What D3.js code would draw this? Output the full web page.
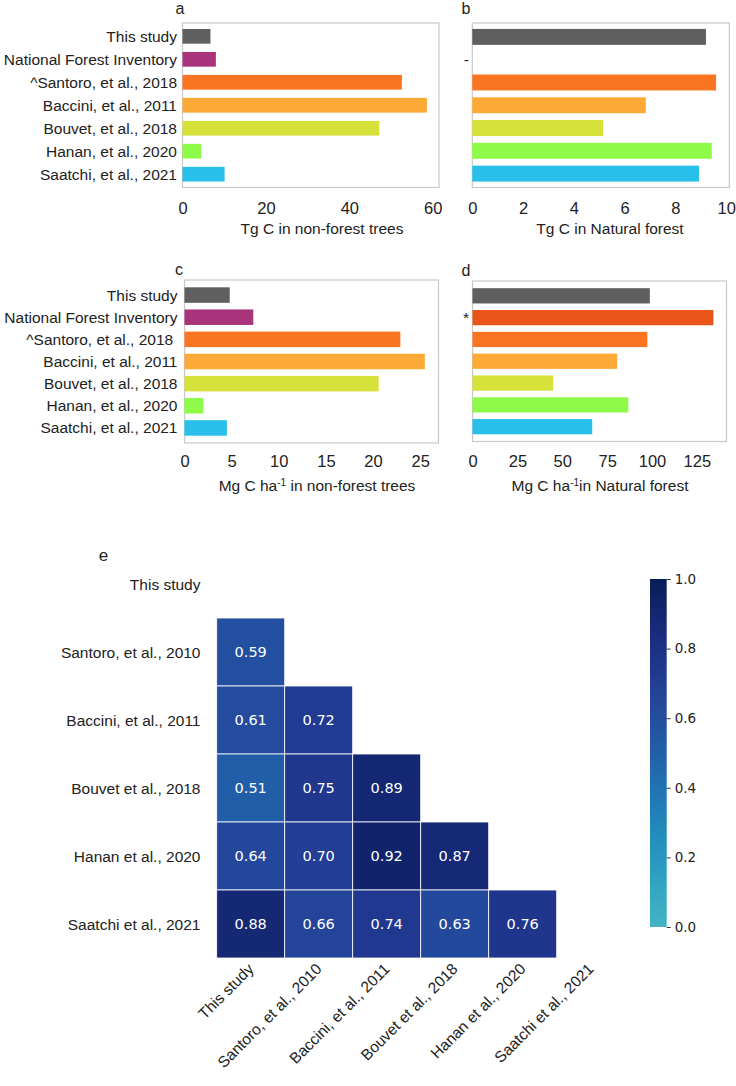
<!DOCTYPE html>
<html><head><meta charset="utf-8">
<script src="https://cdn.jsdelivr.net/npm/d3@7"></script>
<style>
html,body{margin:0;padding:0;background:#fff;}
svg{display:block;}
text{font-family:"Liberation Sans",Arial,sans-serif;fill:#222;}
.dv{font-family:"DejaVu Sans",sans-serif;}
</style></head>
<body>
<svg id="chart" width="736" height="1086"></svg>
<script>
// ---------- data ----------
const studies = ["This study","National Forest Inventory","^Santoro, et al., 2018","Baccini, et al., 2011","Bouvet, et al., 2018","Hanan, et al., 2020","Saatchi, et al., 2021"];
const studiesC = ["This study","National Forest Inventory","^Santoro, et al., 2018\u00a0","Baccini, et al., 2011","Bouvet, et al., 2018","Hanan, et al., 2020","Saatchi, et al., 2021"];
const barColors = ["#5f5f5f","#a8347b","#fb7421","#fca935","#d6e23a","#8dfb48","#28bfea"];
const barColorsD = ["#5f5f5f","#e95518","#fb7421","#fca935","#d6e23a","#8dfb48","#28bfea"];
const tgNonForest = [6.7, 8.0, 52.6, 58.6, 47.2, 4.5, 10.1];
const tgNatural = [9.2, null, 9.6, 6.83, 5.15, 9.43, 8.93];
const mgNonForest = [4.8, 7.3, 22.9, 25.5, 20.6, 2.0, 4.5];
const mgNatural = [98.8, 134.2, 97.4, 80.6, 45.0, 86.8, 66.7];
const labelsB = ["", "-", "", "", "", "", ""];
const labelsD = ["", "*", "", "", "", "", ""];
const ticksA = [0, 20, 40, 60];
const ticksB = [0, 2, 4, 6, 8, 10];
const ticksC = [0, 5, 10, 15, 20, 25];
const ticksD = [0, 25, 50, 75, 100, 125];

const heatLabels = ["This study","Santoro, et al., 2010","Baccini, et al., 2011","Bouvet et al., 2018","Hanan et al., 2020","Saatchi et al., 2021"];
// lower triangle rows (row i has i values)
const corrRows = [
  [],
  [0.59],
  [0.61, 0.72],
  [0.51, 0.75, 0.89],
  [0.64, 0.70, 0.92, 0.87],
  [0.88, 0.66, 0.74, 0.63, 0.76]
];
const cbTicks = [0.0, 0.2, 0.4, 0.6, 0.8, 1.0];

// ---------- drawing ----------
const svg = d3.select("#chart");

function barPanel(o) {
  const g = svg.append("g");
  const x = d3.scaleLinear().domain([0, o.max]).range([o.x0, o.x1]);
  const y = d3.scaleBand().domain(d3.range(o.values.length)).range([o.y0, o.y1])
    .paddingInner(o.pi).paddingOuter(o.po);
  g.append("rect").attr("x", o.x0).attr("y", o.y0).attr("width", o.x1 - o.x0).attr("height", o.y1 - o.y0)
    .attr("fill", "none").attr("stroke", "#c8c8c8").attr("stroke-width", 1.2);
  g.selectAll("rect.bar").data(o.values.map((v, i) => ({v, i}))).enter()
    .filter(d => d.v != null)
    .append("rect").attr("class", "bar")
    .attr("x", x(0)).attr("y", d => y(d.i))
    .attr("width", d => x(d.v) - x(0)).attr("height", y.bandwidth())
    .attr("fill", d => o.colors[d.i]);
  // y labels
  g.selectAll("text.yl").data(o.labels).enter().append("text").attr("class", "yl")
    .attr("x", o.labelX).attr("y", (d, i) => y(i) + y.bandwidth() / 2 + 5.5)
    .attr("text-anchor", "end").style("font-size", "15.5px").style("white-space", "pre").text(d => d);
  // x axis
  const ax = d3.axisBottom(x).tickValues(o.ticks).tickSize(0).tickPadding(0);
  const axg = g.append("g").attr("transform", `translate(0,${o.tickY})`).call(ax);
  axg.select(".domain").remove();
  axg.selectAll("text").attr("dy", 0).attr("y", 0).style("font-size", "16.5px")
    .style("font-family", '"Liberation Sans",Arial,sans-serif').attr("fill", "#222");
  // title
  const t = g.append("text").attr("x", o.titleX).attr("y", o.titleY).attr("text-anchor", "middle").style("font-size", "15.5px");
  o.title.forEach(p => {
    const ts = t.append("tspan").text(p.t);
    if (p.sup) ts.attr("baseline-shift", "super").style("font-size", "10px");
  });
  g.append("text").attr("x", o.letterX).attr("y", o.letterY).attr("text-anchor", "middle").style("font-size", "16px").text(o.letter);
}

barPanel({values: tgNonForest, colors: barColors, labels: studies, max: 61.5, x0: 182.5, x1: 439, y0: 23, y1: 187.5,
  pi: 0.36, po: 0.26, labelX: 177, ticks: ticksA, tickY: 214, title: [{t: "Tg C in non-forest trees"}], titleX: 322, titleY: 234,
  letter: "a", letterX: 180, letterY: 14});
barPanel({values: tgNatural, colors: barColors, labels: labelsB, max: 10.12, x0: 472.3, x1: 729.3, y0: 23, y1: 187.5,
  pi: 0.3, po: 0.26, labelX: 469, ticks: ticksB, tickY: 214, title: [{t: "Tg C in Natural forest"}], titleX: 610, titleY: 234,
  letter: "b", letterX: 466, letterY: 14});
barPanel({values: mgNonForest, colors: barColors, labels: studiesC, max: 26.95, x0: 184.5, x1: 438.5, y0: 280, y1: 443,
  pi: 0.3, po: 0.33, labelX: 177.5, ticks: ticksC, tickY: 467,
  title: [{t: "Mg C ha"}, {t: "-1", sup: true}, {t: " in non-forest trees"}], titleX: 317, titleY: 491,
  letter: "c", letterX: 179, letterY: 275});
barPanel({values: mgNatural, colors: barColorsD, labels: labelsD, max: 141.5, x0: 472.5, x1: 726.5, y0: 281, y1: 441.5,
  pi: 0.3, po: 0.33, labelX: 469, ticks: ticksD, tickY: 467,
  title: [{t: "Mg C ha"}, {t: "-1", sup: true}, {t: "in Natural forest"}], titleX: 600, titleY: 491,
  letter: "d", letterX: 466, letterY: 276});

// ---------- heatmap ----------
const hx = d3.scaleBand().domain(heatLabels).range([216.7, 624.7]);
const hy = d3.scaleBand().domain(heatLabels).range([550, 958]);
const color = v => d3.interpolateYlGnBu(0.5 + 0.5 * v);
const cells = [];
corrRows.forEach((row, i) => row.forEach((v, j) => cells.push({r: heatLabels[i], c: heatLabels[j], v})));
const hg = svg.append("g");
hg.selectAll("rect.cell").data(cells).enter().append("rect").attr("class", "cell")
  .attr("x", d => hx(d.c)).attr("y", d => hy(d.r)).attr("width", hx.bandwidth()).attr("height", hy.bandwidth())
  .attr("fill", d => color(d.v)).attr("stroke", "#ffffff").attr("stroke-width", 0.8);
hg.selectAll("text.cv").data(cells).enter().append("text").attr("class", "cv dv")
  .attr("x", d => hx(d.c) + hx.bandwidth() / 2).attr("y", d => hy(d.r) + hy.bandwidth() / 2 + 5.3)
  .attr("text-anchor", "middle").style("font-size", "14.5px").style("fill", "#fff").text(d => d.v.toFixed(2));
hg.selectAll("text.rl").data(heatLabels).enter().append("text").attr("class", "rl")
  .attr("x", 200.5).attr("y", d => hy(d) + hy.bandwidth() / 2 + 5.5)
  .attr("text-anchor", "end").style("font-size", "15.5px").text(d => d);
hg.selectAll("text.cl").data(heatLabels).enter().append("text").attr("class", "cl")
  .attr("transform", d => `translate(${hx(d) + hx.bandwidth() / 2 + 4},${970}) rotate(-45)`)
  .attr("text-anchor", "end").style("font-size", "15.5px").text(d => d);
svg.append("text").attr("x", 103.5).attr("y", 561).attr("text-anchor", "middle").style("font-size", "17px").text("e");

// ---------- colorbar ----------
const cbY = d3.scaleLinear().domain([0, 1]).range([927, 579]);
const defs = svg.append("defs");
const grad = defs.append("linearGradient").attr("id", "cbgrad").attr("x1", 0).attr("y1", 1).attr("x2", 0).attr("y2", 0);
d3.range(0, 1.0001, 0.05).forEach(t => grad.append("stop").attr("offset", t).attr("stop-color", color(t)));
svg.append("rect").attr("x", 650).attr("y", cbY(1)).attr("width", 16.7).attr("height", cbY(0) - cbY(1)).attr("fill", "url(#cbgrad)");
const cbAxis = d3.axisRight(cbY).tickValues(cbTicks).tickSize(4).tickPadding(4).tickFormat(d3.format(".1f"));
const cbg = svg.append("g").attr("transform", "translate(666.7,0)").call(cbAxis);
cbg.select(".domain").remove();
cbg.selectAll("line").attr("stroke", "#333");
cbg.selectAll("text").attr("class", "dv").style("font-size", "13.5px").attr("fill", "#262626")
  .style("font-family", '"DejaVu Sans",sans-serif');
</script>
</body></html>
